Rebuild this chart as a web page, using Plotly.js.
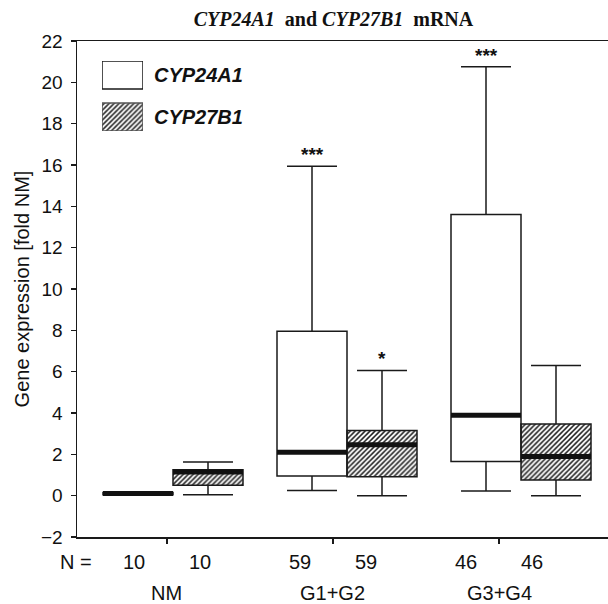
<!DOCTYPE html>
<html>
<head>
<meta charset="utf-8">
<script src="https://cdn.plot.ly/plotly-3.0.1.min.js"></script>
<style>html,body{margin:0;padding:0;background:#fff;}</style>
</head>
<body>
<div id="chart" style="width:608px;height:604px;"></div>
<script>
// ---- data ----
const groups = ['NM', 'G1+G2', 'G3+G4'];
const nCYP24A1 = [10, 59, 46];
const nCYP27B1 = [10, 59, 46];

const cyp24_lower  = [0.05, 0.25, 0.22];
const cyp24_q1     = [0.05, 0.95, 1.65];
const cyp24_median = [0.10, 2.10, 3.89];
const cyp24_q3     = [0.15, 7.96, 13.60];
const cyp24_upper  = [0.15, 15.94, 20.75];

const cyp27_lower  = [0.05, 0.00, 0.00];
const cyp27_q1     = [0.50, 0.92, 0.76];
const cyp27_median = [1.15, 2.46, 1.89];
const cyp27_q3     = [1.25, 3.15, 3.47];
const cyp27_upper  = [1.63, 6.06, 6.30];

const sig24 = ['', '***', '***'];
const sig27 = ['', '*', ''];

// ---- layout helpers ----
const BW = 0.4023;          // box width (group units)
const OFF = BW / 2;
const idx = groups.map((g, i) => i);
const pos24 = idx.map(i => i - OFF);
const pos27 = idx.map(i => i + OFF);
const tickPos = idx.map(i => i - 0.035 - 0.0455 * i);
const LINE = '#1a1a1a';
const FONT = 'Liberation Sans, Arial, sans-serif';

function medianSegs(pos, med) {
  const xs = [], ys = [];
  pos.forEach((p, i) => { xs.push(p - OFF, p + OFF, null); ys.push(med[i], med[i], null); });
  return {xs, ys};
}
const m24 = medianSegs(pos24, cyp24_median);
const m27 = medianSegs(pos27, cyp27_median);

const hatch = {shape: '/', fgcolor: '#222', bgcolor: 'white', size: 3.5, solidity: 0.45};

const traces = [
  // hatched fill for CYP27B1 boxes
  {type: 'bar', x: pos27, base: cyp27_q1, y: cyp27_q3.map((v, i) => v - cyp27_q1[i]),
   width: BW, marker: {color: 'white', pattern: hatch, line: {width: 0}},
   hoverinfo: 'skip', showlegend: false},
  // CYP24A1 boxes
  {type: 'box', x: pos24, q1: cyp24_q1, median: cyp24_median, q3: cyp24_q3,
   lowerfence: cyp24_lower, upperfence: cyp24_upper, width: BW, whiskerwidth: 0.714,
   boxpoints: false, fillcolor: 'white', line: {color: LINE, width: 1.5},
   hoverinfo: 'skip', showlegend: false},
  // CYP27B1 boxes (outline)
  {type: 'box', x: pos27, q1: cyp27_q1, median: cyp27_median, q3: cyp27_q3,
   lowerfence: cyp27_lower, upperfence: cyp27_upper, width: BW, whiskerwidth: 0.714,
   boxpoints: false, fillcolor: 'rgba(0,0,0,0)', line: {color: LINE, width: 1.5},
   hoverinfo: 'skip', showlegend: false},
  // thick medians
  {type: 'scatter', mode: 'lines', x: m24.xs, y: m24.ys, line: {color: '#111', width: 5},
   hoverinfo: 'skip', showlegend: false},
  {type: 'scatter', mode: 'lines', x: m27.xs, y: m27.ys, line: {color: '#111', width: 5},
   hoverinfo: 'skip', showlegend: false},
  // legend swatches
  {type: 'bar', xaxis: 'x2', yaxis: 'y2', x: [0], base: [42], y: [28], width: 1,
   marker: {color: 'white', line: {color: LINE, width: 1.5}}, hoverinfo: 'skip', showlegend: false},
  {type: 'bar', xaxis: 'x2', yaxis: 'y2', x: [0], base: [0], y: [28], width: 1,
   marker: {color: 'white', pattern: hatch, line: {color: '#555', width: 1.5}}, hoverinfo: 'skip', showlegend: false}
];

const annotations = [];
// significance stars
pos24.forEach((p, i) => { if (sig24[i]) annotations.push({x: p, y: cyp24_upper[i], xref: 'x', yref: 'y', text: '<b>' + sig24[i] + '</b>', showarrow: false, yanchor: 'bottom', yshift: -1, font: {family: FONT, size: 19, color: '#111'}}); });
pos27.forEach((p, i) => { if (sig27[i]) annotations.push({x: p, y: cyp27_upper[i], xref: 'x', yref: 'y', text: '<b>' + sig27[i] + '</b>', showarrow: false, yanchor: 'bottom', yshift: -1, font: {family: FONT, size: 19, color: '#111'}}); });
// N row
annotations.push({x: -0.002, y: -0.0504, xref: 'paper', yref: 'paper', text: 'N =', showarrow: false, xanchor: 'center', yanchor: 'middle', font: {family: FONT, size: 20, color: '#111'}});
tickPos.forEach((t, i) => {
  annotations.push({x: t - 0.19, y: -0.0504, xref: 'x', yref: 'paper', text: String(nCYP24A1[i]), showarrow: false, yanchor: 'middle', font: {family: FONT, size: 20, color: '#111'}});
  annotations.push({x: t + 0.19, y: -0.0504, xref: 'x', yref: 'paper', text: String(nCYP27B1[i]), showarrow: false, yanchor: 'middle', font: {family: FONT, size: 20, color: '#111'}});
  annotations.push({x: t, y: -0.1129, xref: 'x', yref: 'paper', text: groups[i], showarrow: false, yanchor: 'middle', font: {family: FONT, size: 20, color: '#111'}});
});
// legend labels
annotations.push({x: 0.1412, y: 0.9315, xref: 'paper', yref: 'paper', text: '<b><i>CYP24A1</i></b>', showarrow: false, xanchor: 'left', yanchor: 'middle', font: {family: FONT, size: 20, color: '#111'}});
annotations.push({x: 0.1412, y: 0.8468, xref: 'paper', yref: 'paper', text: '<b><i>CYP27B1</i></b>', showarrow: false, xanchor: 'left', yanchor: 'middle', font: {family: FONT, size: 20, color: '#111'}});

const layout = {
  width: 608, height: 604,
  margin: {l: 77, r: 0, t: 41, b: 67, pad: 0},
  paper_bgcolor: 'white', plot_bgcolor: 'white',
  barmode: 'overlay',
  font: {family: FONT, size: 19, color: '#111'},
  title: {text: '<b><i>CYP24A1</i>  and <i>CYP27B1</i>  mRNA</b>', x: 0.5485, xanchor: 'center', y: 0.9685, yanchor: 'middle',
          font: {family: 'Liberation Serif, Times New Roman, serif', size: 20, color: '#111'}},
  xaxis: {range: [-0.5517, 2.5], showgrid: false, zeroline: false, showline: true, mirror: true,
          linecolor: LINE, linewidth: 1.5, ticks: 'outside', ticklen: 5, tickcolor: LINE, tickwidth: 1.2,
          tickvals: tickPos, showticklabels: false, fixedrange: true},
  yaxis: {range: [-2, 22], dtick: 2, tick0: 0, showgrid: false, zeroline: false, showline: true,
          linecolor: LINE, linewidth: 1.5, ticks: 'outside', ticklen: 5, tickcolor: LINE, tickwidth: 1.2,
          ticklabelstandoff: 4, tickfont: {family: FONT, size: 19, color: '#111'},
          title: {text: 'Gene expression [fold NM]', standoff: 6, font: {family: FONT, size: 20, color: '#111'}},
          fixedrange: true},
  xaxis2: {domain: [0.0471, 0.1243], range: [-0.5, 0.5], anchor: 'y2', visible: false, fixedrange: true},
  yaxis2: {domain: [0.8185, 0.9597], range: [0, 70], anchor: 'x2', visible: false, fixedrange: true},
  annotations: annotations,
  showlegend: false
};

Plotly.newPlot('chart', traces, layout, {displayModeBar: false, staticPlot: true});
</script>
</body>
</html>
